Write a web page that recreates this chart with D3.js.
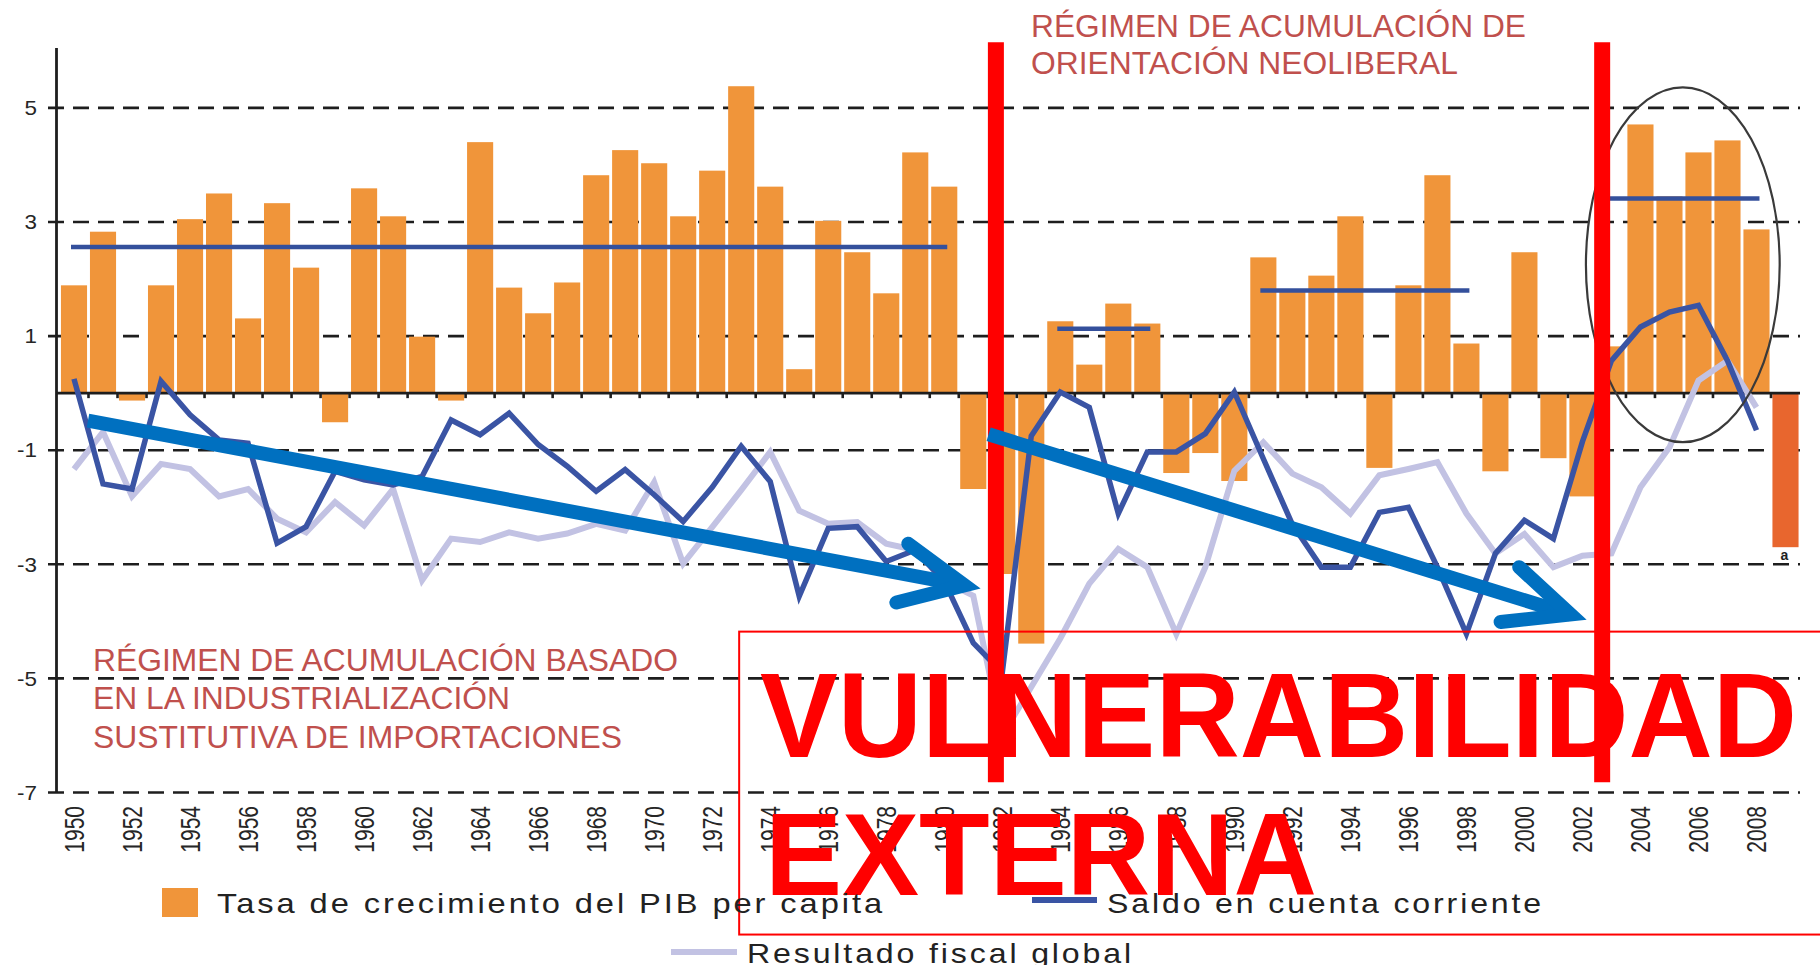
<!DOCTYPE html>
<html><head><meta charset="utf-8">
<script src="https://cdn.jsdelivr.net/npm/d3@7/dist/d3.min.js"></script>
<style>
html,body{margin:0;padding:0;background:#fff;}
svg{display:block;font-family:"Liberation Sans",Arial,Helvetica,sans-serif;}
</style>
</head><body>
<svg id="chart" width="1820" height="965"></svg>
<script>
// ---------- DATA ----------
const years = [1950,1951,1952,1953,1954,1955,1956,1957,1958,1959,
               1960,1961,1962,1963,1964,1965,1966,1967,1968,1969,
               1970,1971,1972,1973,1974,1975,1976,1977,1978,1979,
               1980,1981,1982,1983,1984,1985,1986,1987,1988,1989,
               1990,1991,1992,1993,1994,1995,1996,1997,1998,1999,
               2000,2001,2002,2003,2004,2005,2006,2007,2008,2009];
// Tasa de crecimiento del PIB per capita (bars)
const pibGrowth = [1.89,2.83,-0.13,1.89,3.05,3.50,1.31,3.33,2.20,-0.51,
                   3.59,3.10,0.99,-0.13,4.40,1.85,1.40,1.94,3.82,4.26,
                   4.03,3.10,3.90,5.38,3.62,0.42,3.02,2.47,1.75,4.22,
                   3.62,-1.68,-3.17,-4.39,1.26,0.50,1.57,1.22,-1.40,-1.05,
                   -1.54,2.38,1.80,2.06,3.10,-1.31,1.89,3.82,0.87,-1.37,
                   2.47,-1.14,-1.81,0.82,4.71,3.45,4.22,4.43,2.87,-2.70];
// Saldo en cuenta corriente (1950-2008)
const saldoCC = [0.25,-1.59,-1.68,0.21,-0.38,-0.82,-0.88,-2.63,-2.34,-1.37,
                 -1.52,-1.61,-1.46,-0.47,-0.73,-0.35,-0.90,-1.28,-1.72,-1.34,
                 -1.78,-2.25,-1.65,-0.93,-1.55,-3.56,-2.37,-2.34,-2.95,-2.75,
                 -3.30,-4.38,-4.90,-0.75,0.02,-0.25,-2.11,-1.03,-1.03,-0.71,
                 0.02,-1.15,-2.30,-3.05,-3.05,-2.09,-2.00,-3.05,-4.22,-2.81,
                 -2.23,-2.55,-0.85,0.57,1.16,1.42,1.54,0.57,-0.65];
// Resultado fiscal global (1950-2008)
const fiscal = [-1.33,-0.68,-1.81,-1.24,-1.33,-1.81,-1.68,-2.20,-2.44,-1.91,
                -2.32,-1.68,-3.28,-2.55,-2.61,-2.44,-2.55,-2.46,-2.29,-2.41,
                -1.56,-2.99,-2.35,-1.70,-1.03,-2.06,-2.29,-2.26,-2.64,-2.75,
                -3.30,-3.55,-6.00,-5.15,-4.30,-3.34,-2.73,-3.05,-4.22,-3.05,
                -1.36,-0.86,-1.41,-1.65,-2.11,-1.44,-1.33,-1.21,-2.11,-2.81,
                -2.47,-3.05,-2.85,-2.81,-1.65,-0.95,0.22,0.57,-0.25];
// Period averages of PIB growth
const periodStart = [1950,1984,1991,2003];
const periodEnd   = [1980,1987,1998,2008];
const periodMean  = [2.56,1.13,1.80,3.41];
const yTicks = [5,3,1,-1,-3,-5,-7];
const xTickLabels = [1950,1952,1954,1956,1958,1960,1962,1964,1966,1968,1970,1972,1974,1976,1978,
                     1980,1982,1984,1986,1988,1990,1992,1994,1996,1998,2000,2002,2004,2006,2008];
// regime breaks (year units) and trend arrows [x0,y0,x1,y1] in data units
const regimeBreaks = [1981.78, 2002.68];
const arrowShafts = [[1950.48,-0.48,1980.70,-3.37],[1981.53,-0.72,2001.59,-3.88]];
const arrowBarbs  = [[1978.76,-2.64,1978.35,-3.67],[1999.82,-3.05,1999.18,-4.01]];

// ---------- SCALES ----------
const svg = d3.select("#chart");
svg.append("rect").attr("width",1820).attr("height",965).attr("fill","#fff");

const x = d3.scaleBand().domain(years).range([59.5,1800]).paddingInner(0.1).paddingOuter(0.05);
const xc = yr => x(yr) + x.bandwidth()/2;
const xl = d3.scaleLinear().domain([1950,2009]).range([xc(1950), xc(2009)]);
const y = d3.scaleLinear().domain([-7,6.05]).range([792.5,48]);

// gridlines
svg.append("g").selectAll("line").data(yTicks).join("line")
  .attr("x1",48).attr("x2",1800)
  .attr("y1",d=>y(d)).attr("y2",d=>y(d))
  .attr("stroke","#1e1e1e").attr("stroke-width",2.6).attr("stroke-dasharray","16,9");

// y tick labels
svg.append("g").selectAll("text").data(yTicks).join("text")
  .attr("transform",d=>`translate(37,${y(d)}) scale(1.12,1)`)
  .attr("dy","0.36em")
  .attr("text-anchor","end").attr("font-size",20).attr("fill","#262626")
  .text(d=>d);

// bars
svg.append("g").selectAll("rect").data(years).join("rect")
  .attr("x",d=>x(d)).attr("width",x.bandwidth())
  .attr("y",(d,i)=>y(Math.max(0,pibGrowth[i])))
  .attr("height",(d,i)=>Math.abs(y(pibGrowth[i])-y(0)))
  .attr("fill",d=>d===2009?"#E8662E":"#F0953A");

// x tick marks on zero line
svg.append("g").selectAll("line").data(years.slice(0,-1)).join("line")
  .attr("x1",d=>xc(d)+x.step()/2).attr("x2",d=>xc(d)+x.step()/2)
  .attr("y1",y(0)).attr("y2",y(0)+5)
  .attr("stroke","#1e1e1e").attr("stroke-width",2.6);

// zero line + y axis
svg.append("line").attr("x1",56.5).attr("x2",1800).attr("y1",y(0)).attr("y2",y(0))
  .attr("stroke","#1e1e1e").attr("stroke-width",2.6);
svg.append("line").attr("x1",56.5).attr("x2",56.5).attr("y1",y(6.05)).attr("y2",y(-7))
  .attr("stroke","#1e1e1e").attr("stroke-width",2.8);

// lines
const lineGen = d3.line().x((d,i)=>xc(years[i])).y(d=>y(d));
svg.append("path").datum(fiscal).attr("d",lineGen)
  .attr("fill","none").attr("stroke","#C2C2E3").attr("stroke-width",6);
svg.append("path").datum(saldoCC).attr("d",lineGen)
  .attr("fill","none").attr("stroke","#3A54A4").attr("stroke-width",5.5);

// period means
svg.append("g").selectAll("line").data(periodMean).join("line")
  .attr("x1",(d,i)=>xc(periodStart[i])-3).attr("x2",(d,i)=>xc(periodEnd[i])+3)
  .attr("y1",d=>y(d)).attr("y2",d=>y(d))
  .attr("stroke","#34509C").attr("stroke-width",4.5);

// ellipse
svg.append("ellipse").attr("cx",xl(2005.46)).attr("cy",y(2.25))
  .attr("rx",xl(2005.46+3.34)-xl(2005.46)).attr("ry",y(2.25-3.11)-y(2.25))
  .attr("fill","none").attr("stroke","#3a3a3a").attr("stroke-width",2.2);

// red rectangle
svg.append("rect").attr("x",xl(1972.93)).attr("y",y(-4.18))
  .attr("width",1200).attr("height",y(-9.49)-y(-4.18))
  .attr("fill","none").attr("stroke","#FF0000").attr("stroke-width",2);

// red vertical lines
svg.append("g").selectAll("line").data(regimeBreaks).join("line")
  .attr("x1",d=>xl(d)).attr("x2",d=>xl(d))
  .attr("y1",y(6.15)).attr("y2",y(-6.82))
  .attr("stroke","#FF0000").attr("stroke-width",16);

// arrows
const ag = svg.append("g").attr("stroke","#0070C0").attr("fill","none").attr("stroke-width",14);
arrowShafts.forEach((s,i)=>{
  ag.append("line").attr("x1",xl(s[0])).attr("y1",y(s[1])).attr("x2",xl(s[2])).attr("y2",y(s[3]));
  const b = arrowBarbs[i];
  ag.append("path")
    .attr("d",`M${xl(b[0])},${y(b[1])}L${xl(s[2])},${y(s[3])}L${xl(b[2])},${y(b[3])}`)
    .attr("stroke-linecap","round").attr("stroke-linejoin","miter").attr("stroke-miterlimit",10);
});

// x tick labels
svg.append("g").selectAll("text").data(xTickLabels).join("text")
  .attr("transform",d=>`translate(${xc(d)+10},806) rotate(-90) scale(1,1.3)`)
  .attr("text-anchor","end").attr("font-size",21).attr("fill","#262626")
  .text(d=>d);

// small note
svg.append("text").attr("x",xc(2009)-1).attr("y",560).attr("text-anchor","middle")
  .attr("font-size",14).attr("font-weight","bold").attr("fill","#222").text("a");

// region labels
const reg = "#C0504D";
function txt(t,xp,yp,fs,len,col,extra){
  const e = svg.append("text").attr("x",xp).attr("y",yp).attr("font-size",fs).attr("fill",col).text(t);
  if(len) e.attr("textLength",len).attr("lengthAdjust",extra||"spacingAndGlyphs");
  return e;
}
txt("RÉGIMEN DE ACUMULACIÓN DE",1031,36.7,31,495,reg);
txt("ORIENTACIÓN NEOLIBERAL",1031,74,31,427,reg);
txt("RÉGIMEN DE ACUMULACIÓN BASADO",93,670.7,31,585,reg);
txt("EN LA INDUSTRIALIZACIÓN",93,709,31,417,reg);
txt("SUSTITUTIVA DE IMPORTACIONES",93,748,31,529,reg);

// big text
txt("VULNERABILIDAD",760,756.7,121,1037,"#FF0000").attr("font-weight","bold");
txt("EXTERNA",765,895,116,552,"#FF0000").attr("font-weight","bold");

// legend
svg.append("rect").attr("x",162).attr("y",888).attr("width",36).attr("height",29).attr("fill","#F0953A");
txt("Tasa de crecimiento del PIB per capita",217,913,28,668,"#222").attr("letter-spacing",2.5);
svg.append("line").attr("x1",1032).attr("x2",1097).attr("y1",900).attr("y2",900).attr("stroke","#3A54A4").attr("stroke-width",6);
txt("Saldo en cuenta corriente",1107,913,28,437,"#222").attr("letter-spacing",2.5);
svg.append("line").attr("x1",671).attr("x2",737).attr("y1",952).attr("y2",952).attr("stroke","#C2C2E3").attr("stroke-width",6);
txt("Resultado fiscal global",747,963,28,387,"#222").attr("letter-spacing",2.5);
</script>
</body></html>
